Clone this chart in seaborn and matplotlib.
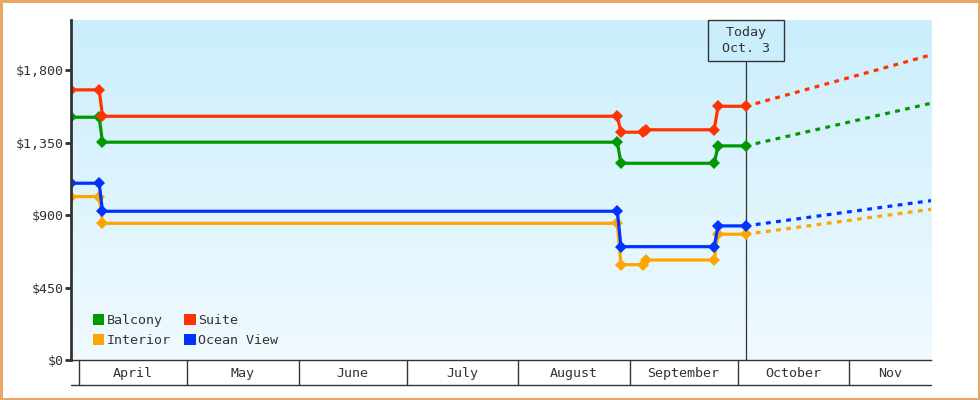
import numpy as np
import pandas as pd
import matplotlib
matplotlib.use("Agg")
import matplotlib.pyplot as plt
import matplotlib.dates as mdates
from matplotlib.patches import Patch
from matplotlib.lines import Line2D
from matplotlib.ticker import FixedLocator, FixedFormatter, NullFormatter
from matplotlib.colors import LinearSegmentedColormap
import seaborn as sns

# ── Data ──────────────────────────────────────────────────────────────────────
cabins = ["Balcony", "Interior", "Suite", "Ocean View"]
colors = ["#009900", "#ffa500", "#ff3300", "#0033ff"]

# price-change timestamps (Balcony / Ocean View)
plain_dates = ["2023-03-29 18:00", "2023-04-06 14:00", "2023-04-07 12:00",
               "2023-08-28 14:00", "2023-08-29 14:00",
               "2023-09-24 12:00", "2023-09-25 14:00", "2023-10-03 06:00"]
# Suite / Interior had an extra small change in early September
dip_dates = ["2023-03-29 18:00", "2023-04-06 14:00", "2023-04-07 12:00",
             "2023-08-28 14:00", "2023-08-29 14:00",
             "2023-09-04 14:00", "2023-09-05 12:00",
             "2023-09-24 12:00", "2023-09-25 14:00", "2023-10-03 06:00"]

balcony    = [1508, 1508, 1353, 1353, 1222, 1222, 1330, 1330]
ocean_view = [1098, 1098, 924, 924, 704, 704, 833, 833]
suite      = [1678, 1678, 1514, 1514, 1415, 1415, 1430, 1430, 1576, 1576]
interior   = [1015, 1015, 849, 849, 592, 592, 621, 621, 781, 781]

today        = "2023-10-03 06:00"
forecast_end = "2023-11-23 18:00"
forecast_end_values = [1595, 936, 1895, 990]   # same order as cabins

yticks       = [0, 450, 900, 1350, 1800]
ytick_labels = ["$0", "$450", "$900", "$1,350", "$1,800"]
month_labels = ["April", "May", "June", "July", "August", "September", "October", "Nov"]
label_dates  = ["2023-04-16 00:00", "2023-05-16 12:00", "2023-06-16 00:00",
                "2023-07-16 12:00", "2023-08-16 12:00", "2023-09-16 00:00",
                "2023-10-16 12:00", "2023-11-12 09:00"]

# ── Frames ────────────────────────────────────────────────────────────────────
series = {"Balcony": (plain_dates, balcony), "Interior": (dip_dates, interior),
          "Suite": (dip_dates, suite), "Ocean View": (plain_dates, ocean_view)}
hist = pd.concat([pd.DataFrame({"date": pd.to_datetime(d), "price": v, "cabin": c})
                  for c, (d, v) in series.items()], ignore_index=True)
proj = pd.concat([pd.DataFrame({"date": pd.to_datetime([today, forecast_end]),
                                "price": [series[c][1][-1], end], "cabin": c})
                  for c, end in zip(cabins, forecast_end_values)], ignore_index=True)
palette = dict(zip(cabins, colors))

# ── Style ─────────────────────────────────────────────────────────────────────
sns.set_theme(style="white")
plt.rcParams["font.family"] = ["DejaVu Sans Mono"]
FS = 9.6
INK = "#333333"

fig = plt.figure(figsize=(9.8, 4), dpi=100, facecolor="white",
                 edgecolor="#e8a865", linewidth=2.5)
ax = fig.add_axes([71 / 980, 40 / 400, 860 / 980, 340 / 400])

ax.axvline(pd.Timestamp(today), color=INK, lw=0.9, zorder=1.5)

sns.lineplot(data=hist, x="date", y="price", hue="cabin", hue_order=cabins,
             palette=palette, estimator=None, marker="D", markersize=6.5,
             markeredgewidth=0, linewidth=2.3, legend=False, ax=ax)
sns.lineplot(data=proj, x="date", y="price", hue="cabin", hue_order=cabins,
             palette=palette, estimator=None, linewidth=2.3,
             linestyle=(0, (1.5, 1.7)), legend=False, ax=ax)

# sky gradient background
grad = np.linspace(0, 1, 256).reshape(-1, 1)
sky = LinearSegmentedColormap.from_list("sky", ["#f0faff", "#cbeefc"])
ax.imshow(grad, cmap=sky, extent=[0, 1, 0, 1], transform=ax.transAxes,
          aspect="auto", origin="lower", zorder=0)

ax.set_xlim(pd.Timestamp(plain_dates[0]), pd.Timestamp(forecast_end))
ax.set_ylim(0, 2112)
ax.set_xlabel("")
ax.set_ylabel("")

# y axis
ax.set_yticks(yticks)
ax.set_yticklabels(ytick_labels)
ax.tick_params(axis="y", length=4.5, width=2, color=INK, labelcolor=INK,
               labelsize=FS, pad=1, left=True)

# x axis: month boxes
ax.xaxis.set_major_locator(mdates.MonthLocator())
ax.xaxis.set_major_formatter(NullFormatter())
ax.xaxis.set_minor_locator(FixedLocator(mdates.date2num(pd.to_datetime(label_dates))))
ax.xaxis.set_minor_formatter(FixedFormatter(month_labels))
ax.tick_params(axis="x", which="major", length=18, width=1, color=INK,
               direction="out", bottom=True)
ax.tick_params(axis="x", which="minor", length=0, labelsize=FS,
               labelcolor=INK, pad=5, bottom=True)
ax.add_line(Line2D([0, 1], [-25 / 340, -25 / 340], transform=ax.transAxes,
                   color=INK, lw=1, clip_on=False))

for side in ["top", "right"]:
    ax.spines[side].set_visible(False)
ax.spines["left"].set_linewidth(2)
ax.spines["left"].set_color(INK)
ax.spines["bottom"].set_linewidth(1)
ax.spines["bottom"].set_color(INK)
ax.grid(False)

# today marker box
ax.annotate(" Today \n Oct. 3 ", xy=(pd.Timestamp(today), 1),
            xycoords=("data", "axes fraction"), xytext=(0, -4.5),
            textcoords="offset points", ha="center", va="top",
            fontsize=FS, color=INK, linespacing=1.25, zorder=5,
            bbox=dict(boxstyle="square,pad=0.45", fc="#cbeefc", ec=INK, lw=1))

# legend
handles = [Patch(facecolor=c, edgecolor="none", label=n) for n, c in zip(cabins, colors)]
ax.legend(handles=handles, ncol=2, loc="lower left", bbox_to_anchor=(0.0194, 0.0226),
          borderaxespad=0, borderpad=0.4, frameon=False, fontsize=FS,
          handlelength=0.85, handleheight=0.85, handletextpad=0.2,
          columnspacing=1.0, labelspacing=0.5, labelcolor=INK)

fig.savefig("out.png", dpi=100)
